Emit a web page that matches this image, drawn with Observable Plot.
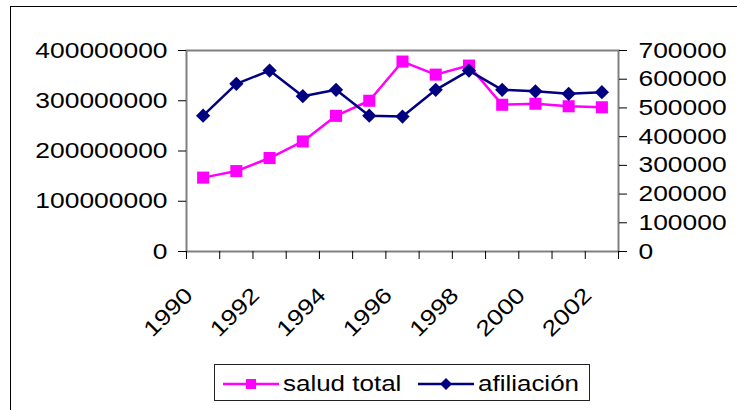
<!DOCTYPE html>
<html>
<head>
<meta charset="utf-8">
<script src="https://cdn.jsdelivr.net/npm/d3@7"></script>
<script src="https://cdn.jsdelivr.net/npm/@observablehq/plot@0.6"></script>
<style>
  html, body { margin: 0; padding: 0; background: #fff; }
  #wrap { position: relative; width: 737px; height: 410px; overflow: hidden; background: #fff;
          font-family: "Liberation Sans", Arial, sans-serif; }
  #outer { position: absolute; left: 10px; top: 6px; width: 800px; height: 500px;
           border-left: 1px solid #000; border-top: 1px solid #000; }
  #chart { position: absolute; left: 0; top: 0; }
  #legend { position: absolute; left: 214px; top: 364px; width: 374px; height: 35px;
            border: 1px solid #222; background: #fff; }
  .sw { position: absolute; top: 12px; }
  .lab { position: absolute; top: 7px; font-size: 22px; line-height: 24px; white-space: nowrap;
         transform: scaleX(1.18); transform-origin: left center; color: #000; }
</style>
</head>
<body>
<div id="wrap">
  <div id="outer"></div>
  <div id="chart"></div>
  <div id="legend"></div>
</div>
<script>
// ---- data ----
const years = [1990, 1991, 1992, 1993, 1994, 1995, 1996, 1997, 1998, 1999, 2000, 2001, 2002];
const saludTotal = [147000000, 160000000, 186000000, 219000000, 270000000, 300000000, 378000000,
                    352000000, 370000000, 292000000, 294000000, 289000000, 287000000];
const afiliacion = [473000, 584000, 630000, 541000, 563000, 473000, 470000,
                    563000, 630000, 563000, 558000, 549000, 555000];
const leftTicks = [0, 100000000, 200000000, 300000000, 400000000];
const rightTicks = [0, 100000, 200000, 300000, 400000, 500000, 600000, 700000];
const xLabelYears = [1990, 1992, 1994, 1996, 1998, 2000, 2002];
const seriesNames = ["salud total", "afiliación"];
const colors = ["#FF00FF", "#000080"];

// ---- build ----
const k = leftTicks[leftTicks.length - 1] / rightTicks[rightTicks.length - 1];
const salud = years.map((y, i) => ({year: y, value: saludTotal[i]}));
const afil = years.map((y, i) => ({year: y, value: afiliacion[i] * k}));
const boundaries = d3.range(years[0] - 0.5, years[years.length - 1] + 1, 1);

const svg = Plot.plot({
  width: 737,
  height: 355,
  marginLeft: 186,
  marginRight: 119,
  marginTop: 50,
  marginBottom: 104,
  style: {fontFamily: "'Liberation Sans', Arial, sans-serif", fontSize: "22px", background: "transparent", overflow: "visible", color: "#000"},
  x: {type: "linear", domain: [years[0] - 0.5, years[years.length - 1] + 0.5], label: null},
  y: {domain: [0, leftTicks[leftTicks.length - 1]], label: null},
  marks: [
    Plot.frame({stroke: "#808080", strokeWidth: 2}),
    Plot.axisY(leftTicks, {anchor: "left", tickSize: 8, tickPadding: 11, tickFormat: d => String(d), label: null}),
    Plot.axisY(rightTicks.map(v => v * k), {anchor: "right", tickSize: 8, tickPadding: 12,
      tickFormat: d => String(Math.round(d / k)), label: null}),
    Plot.axisX(boundaries, {anchor: "bottom", tickSize: 8, tickFormat: () => "", label: null}),
    Plot.text(xLabelYears, {x: d => d, text: d => String(d), frameAnchor: "bottom", rotate: -45, textAnchor: "end",
      lineAnchor: "bottom", dx: -9, dy: 45, fontSize: 22, fill: "#000"}),
    Plot.line(salud, {x: "year", y: "value", stroke: colors[0], strokeWidth: 2.5}),
    Plot.dot(salud, {x: "year", y: "value", symbol: "square", r: 6.8, fill: colors[0]}),
    Plot.line(afil, {x: "year", y: "value", stroke: colors[1], strokeWidth: 2.5}),
    Plot.dot(afil, {x: "year", y: "value", symbol: "diamond2", r: 6.4, fill: colors[1]})
  ]
});
document.getElementById("chart").append(svg);

// widen glyphs horizontally like the reference
svg.querySelectorAll("text").forEach(t => {
  const L = t.getComputedTextLength();
  if (L > 0) {
    t.setAttribute("textLength", (L * 1.2).toFixed(2));
    t.setAttribute("lengthAdjust", "spacingAndGlyphs");
  }
});

// ---- legend ----
const legend = document.getElementById("legend");
const items = [
  {left: 8, textLeft: 68, shape: "square"},
  {left: 203, textLeft: 263, shape: "diamond"}
];
items.forEach((it, i) => {
  const sw = document.createElementNS("http://www.w3.org/2000/svg", "svg");
  sw.setAttribute("width", 56); sw.setAttribute("height", 14);
  sw.setAttribute("class", "sw");
  sw.style.left = it.left + "px";
  const line = document.createElementNS(sw.namespaceURI, "line");
  line.setAttribute("x1", 0); line.setAttribute("x2", 56);
  line.setAttribute("y1", 7); line.setAttribute("y2", 7);
  line.setAttribute("stroke", colors[i]); line.setAttribute("stroke-width", 2.5);
  sw.append(line);
  const m = document.createElementNS(sw.namespaceURI, "path");
  m.setAttribute("d", it.shape === "square" ? "M23,2h10v10h-10z" : "M28,1L34,7L28,13L22,7z");
  m.setAttribute("fill", colors[i]);
  sw.append(m);
  legend.append(sw);
  const lab = document.createElement("div");
  lab.className = "lab";
  lab.style.left = it.textLeft + "px";
  lab.textContent = seriesNames[i];
  legend.append(lab);
});
</script>
</body>
</html>
